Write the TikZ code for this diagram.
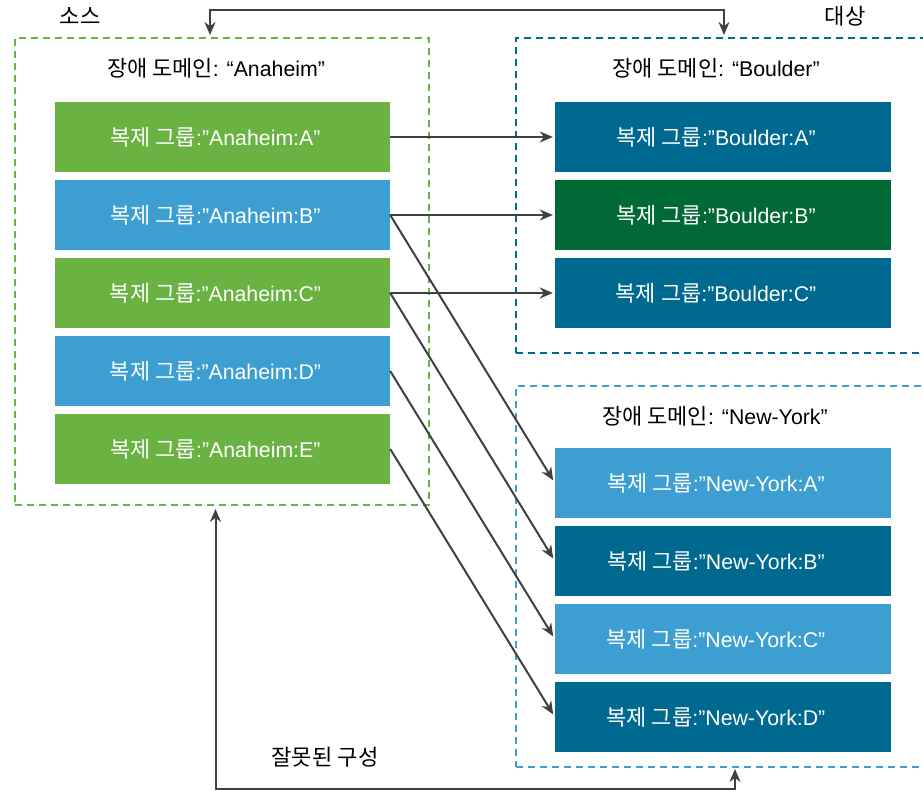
\documentclass[tikz,border=0pt]{standalone}
\usepackage{fontspec}
\setmainfont{Liberation Sans}
\newfontfamily\krfont{Noto Sans CJK KR}[Scale=1.03]
\newcommand\ko[1]{{\krfont #1}}
\newcommand\glabel[1]{\hspace*{-14pt}{\krfont 복제 그룹}:”#1”}
\usetikzlibrary{arrows.meta}
\definecolor{vgreen}{HTML}{6AB343}
\definecolor{vlblue}{HTML}{3D9FD1}
\definecolor{vdblue}{HTML}{00698F}
\definecolor{vdgreen}{HTML}{006934}
\definecolor{vline}{HTML}{404040}
\tikzset{
  grp/.style={minimum width=335pt, minimum height=70pt, inner sep=0pt, text=white,
    font=\fontsize{21.3}{24}\selectfont},
  ttl/.style={inner sep=0pt, text=black, font=\fontsize{21.3}{24}\selectfont},
  lbl/.style={inner sep=0pt, text=black, font=\fontsize{21.5}{24}\selectfont},
  frame/.style={draw, line width=2.2pt, dash pattern=on 7pt off 5pt, inner sep=0pt},
  conn/.style={draw=vline, line width=2pt, -{Stealth[length=13pt,width=11pt]}},
  conn2/.style={draw=vline, line width=2pt, {Stealth[length=13pt,width=11pt]}-{Stealth[length=13pt,width=11pt]}},
}
\begin{document}
\begin{tikzpicture}[x=1pt,y=-1pt]
\useasboundingbox (0,0) rectangle (923,791);
% frames
\node[frame, draw=vgreen, minimum width=414pt, minimum height=467pt] (src) at (222,271.5) {};
\node[frame, draw=vdblue, minimum width=420pt, minimum height=315pt] (bfr) at (726,195.5) {};
\node[frame, draw=vlblue, minimum width=420pt, minimum height=381pt] (nfr) at (726,576.5) {};
% titles
\node[ttl] (tA) at (216,68) {\ko{장애 도메인}: “Anaheim”};
\node[ttl] (tB) at (716,68) {\ko{장애 도메인}: “Boulder”};
\node[ttl] (tN) at (715,416) {\ko{장애 도메인}: “New-York”};
\node[lbl] (lsrc) at (80,16) {\ko{소스}};
\node[lbl] (ldst) at (845,16) {\ko{대상}};
\node[lbl] (lbad) at (325,757) {\ko{잘못된 구성}};
% source groups
\node[grp, fill=vgreen] (a1) at (222.5,137) {\glabel{Anaheim:A}};
\node[grp, fill=vlblue] (a2) at (222.5,215) {\glabel{Anaheim:B}};
\node[grp, fill=vgreen] (a3) at (222.5,293) {\glabel{Anaheim:C}};
\node[grp, fill=vlblue] (a4) at (222.5,371) {\glabel{Anaheim:D}};
\node[grp, fill=vgreen] (a5) at (222.5,449) {\glabel{Anaheim:E}};
% boulder groups
\node[grp, fill=vdblue, minimum width=336pt] (b1) at (723,137) {\glabel{Boulder:A}};
\node[grp, fill=vdgreen, minimum width=336pt] (b2) at (723,215) {\glabel{Boulder:B}};
\node[grp, fill=vdblue, minimum width=336pt] (b3) at (723,293) {\glabel{Boulder:C}};
% new-york groups
\node[grp, fill=vlblue, minimum width=336pt] (n1) at (723,483) {\glabel{New-York:A}};
\node[grp, fill=vdblue, minimum width=336pt] (n2) at (723,561) {\glabel{New-York:B}};
\node[grp, fill=vlblue, minimum width=336pt] (n3) at (723,639) {\glabel{New-York:C}};
\node[grp, fill=vdblue, minimum width=336pt] (n4) at (723,717) {\glabel{New-York:D}};
% connectors
\draw[conn, shorten >=2pt] (a1.east) -- (b1.west);
\draw[conn, shorten >=2pt] (a2.east) -- (b2.west);
\draw[conn, shorten >=2pt] (a3.east) -- (b3.west);
\draw[conn, shorten >=3pt] (a2.east) -- (n1.west);
\draw[conn, shorten >=3pt] (a3.east) -- (n2.west);
\draw[conn, shorten >=3pt] (a4.east) -- (n3.west);
\draw[conn, shorten >=3pt] (a5.east) -- (n4.west);
% top connector
\coordinate (ts) at (210,35);
\coordinate (td) at (724,35);
\draw[conn2] (ts) -- (210,10) -- (724,10) -- (td);
% bottom connector
\coordinate (bs) at (215.5,509);
\coordinate (bd) at (735,769);
\draw[conn2] (bs) -- (215.5,789) -- (735,789) -- (bd);
\end{tikzpicture}
\end{document}
